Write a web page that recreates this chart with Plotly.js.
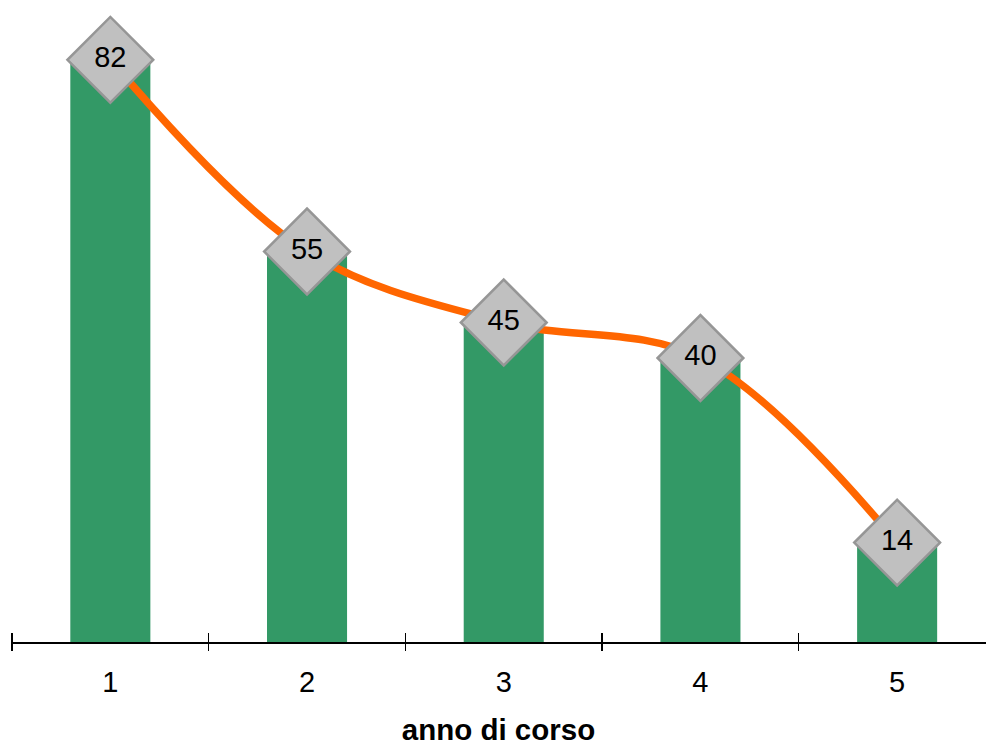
<!DOCTYPE html>
<html>
<head>
<meta charset="utf-8">
<script src="https://cdn.plot.ly/plotly-3.0.1.min.js"></script>
<style>html,body{margin:0;padding:0;background:#fff;}#chart{width:986px;height:746px;}</style>
</head>
<body>
<div id="chart"></div>
<script>
var categories = [1, 2, 3, 4, 5];
var tickLabels = ['1', '2', '3', '4', '5'];
var values = [82, 55, 45, 40, 14];
var boundaries = [0.5, 1.5, 2.5, 3.5, 4.5];
var xTitle = 'anno di corso';

var FONT = 'Liberation Sans, Arial, sans-serif';
var xRange = [0.495, 0.495 + 975 / 196.7];

var bars = {
  type: 'bar',
  x: categories,
  y: values,
  marker: {color: '#339966'},
  hoverinfo: 'x+y',
  showlegend: false
};

var line = {
  type: 'scatter',
  mode: 'lines+markers+text',
  x: categories,
  y: values,
  xaxis: 'x2',
  yaxis: 'y',
  text: values.map(String),
  textposition: 'middle center',
  textfont: {family: FONT, size: 29, color: '#000'},
  line: {color: '#ff6600', width: 7.5, shape: 'spline', smoothing: 1},
  marker: {symbol: 'diamond', size: 66, color: '#c0c0c0', line: {color: '#969696', width: 2.5}},
  cliponaxis: false,
  showlegend: false
};

var layout = {
  width: 986,
  height: 746,
  margin: {l: 11, r: 0, t: 3, b: 95},
  paper_bgcolor: '#fff',
  plot_bgcolor: '#fff',
  bargap: 0.593,
  showlegend: false,
  font: {family: FONT, color: '#000'},
  xaxis: {
    range: xRange,
    anchor: 'y',
    tickmode: 'array',
    tickvals: categories,
    ticktext: tickLabels,
    ticks: '',
    ticklabelstandoff: 14,
    tickfont: {family: FONT, size: 29, color: '#000'},
    showline: true,
    linecolor: '#000',
    linewidth: 1.5,
    showgrid: false,
    zeroline: false,
    fixedrange: true,
    title: {text: '<b>' + xTitle + '</b>', font: {family: FONT, size: 29.5, color: '#000'}, standoff: 28}
  },
  xaxis2: {
    range: xRange,
    overlaying: 'x',
    anchor: 'free',
    position: 0,
    side: 'top',
    tickmode: 'array',
    tickvals: boundaries,
    ticks: 'outside',
    ticklen: 18,
    tickwidth: 1.2,
    tickcolor: '#000',
    showticklabels: false,
    showline: false,
    showgrid: false,
    zeroline: false,
    fixedrange: true
  },
  yaxis: {
    range: [0, 90],
    domain: [9 / 648, 1],
    visible: false,
    showgrid: false,
    zeroline: false,
    fixedrange: true
  }
};

Plotly.newPlot('chart', [bars, line], layout, {displayModeBar: false, staticPlot: true});
</script>
</body>
</html>
